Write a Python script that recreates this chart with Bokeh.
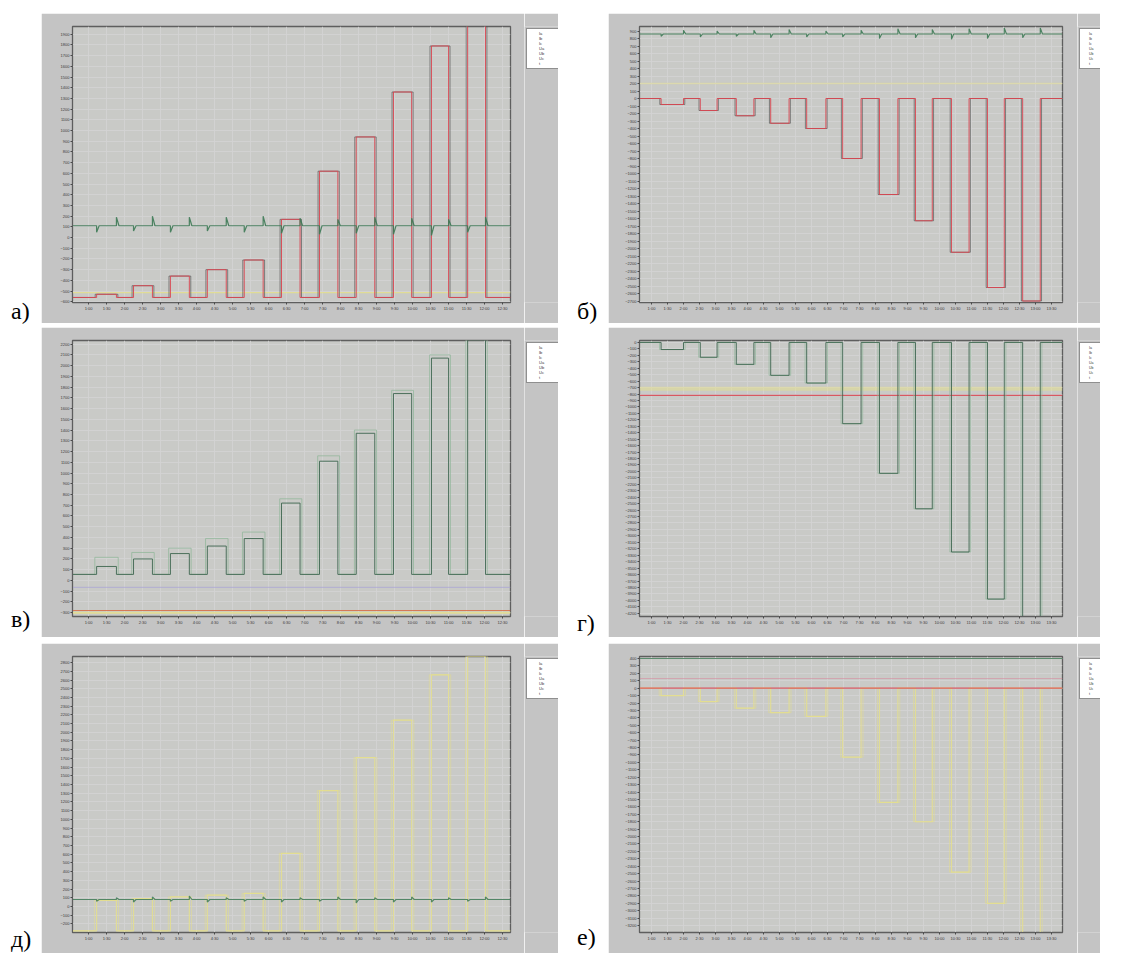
from bokeh.plotting import figure
from bokeh.models import Range1d, FixedTicker, Legend, LegendItem, Div, Spacer
from bokeh.layouts import row, column
from bokeh.embed import file_html
from bokeh.resources import INLINE

# ---------------- data ----------------
left_x_labels = ["1:00", "1:30", "2:00", "2:30", "3:00", "3:30", "4:00", "4:30",
                 "5:00", "5:30", "6:00", "6:30", "7:00", "7:30", "8:00", "8:30",
                 "9:00", "9:30", "10:00", "10:30", "11:00", "11:30", "12:00", "12:30"]
right_x_labels = ["1:00", "1:30", "2:00", "2:30", "3:00", "3:30", "4:00", "4:30",
                  "5:00", "5:30", "6:00", "6:30", "7:00", "7:30", "8:00", "8:30",
                  "9:00", "9:30", "10:00", "10:30", "11:00", "11:30", "12:00", "12:30",
                  "13:00", "13:30"]

legend_labels = ["Ia", "Ib", "Ic", "Ua", "Ub", "Uc", "t"]

# pulse timing (x in tick units)
left_start = [0.45, 2.5, 4.55, 6.6, 8.65, 10.72, 12.83, 14.87, 16.94, 19.05, 21.06]
left_end = [1.55, 3.55, 5.6, 7.65, 9.7, 11.75, 13.85, 15.9, 17.95, 20.0, 22.05]
right_start = [0.6, 3.05, 5.3, 7.45, 9.7, 11.95, 14.25, 16.5, 18.75, 21.0, 23.2]
right_end = [2.0, 4.1, 6.4, 8.6, 10.9, 13.1, 15.4, 17.55, 19.85, 22.05, 24.3]

# а)
a_base = -560
a_top = [-530, -450, -360, -300, -210, 170, 620, 940, 1360, 1790, 1990]
a_green = 110
a_green_dip = [-60, -50, -60, -50, -60, -70, -80, -70, -80, -90, -60]
a_green_peak = [80, 90, 80, 80, 90, 70, 60, 80, 70, 60, 80]
a_yellow = -514

# б)
b_base = 0
b_bottom = [-80, -160, -230, -330, -400, -800, -1280, -1630, -2050, -2520, -2700]
b_green = 860
b_green_dip = [-30, -40, -30, -50, -40, -40, -60, -50, -70, -60, -50]
b_green_peak = [50, 40, 50, 60, 40, 50, 70, 60, 70, 80, 80]
b_yellow = 200

# в)
c_base = 56
c_top = [130, 200, 250, 320, 390, 720, 1110, 1370, 1740, 2070, 2240]
c_top_light = [215, 260, 300, 390, 450, 760, 1160, 1400, 1770, 2100, 2240]
c_red = -280
c_yellow = -300
c_lilac = -65

# г)
d_base = 0
d_bottom = [-110, -230, -340, -510, -630, -1260, -2030, -2580, -3250, -3980, -4300]
d_red = -820
d_yellow = -720

# д)
e_base = -280
e_top = [70, 90, 110, 130, 150, 610, 1330, 1710, 2140, 2660, 2870]
e_green = 80
e_green_dip = [-20, -30, -20, -30, -20, -30, -20, -40, -30, -30, -20]
e_green_peak = [20, 30, 40, 20, 30, 20, 30, 20, 30, 20, 30]

# е)
f_base = 0
f_bottom = [-100, -180, -270, -330, -380, -930, -1540, -1800, -2480, -2900, -3300]
f_green = 400
f_red = 0
f_pink = 130

# y ticks
a_yticks = list(range(-600, 2000, 100))
b_yticks = list(range(-2700, 1000, 100))
c_yticks = list(range(-300, 2300, 100))
d_yticks = list(range(-4200, 100, 100))
e_yticks = list(range(-200, 2900, 100))
f_yticks = list(range(-3200, 500, 100))

# ---------------- style ----------------
PANEL_BG = "#c4c4c4"
PLOT_BG = "#c9cac7"
GRID = "#d3d3d3"
RED = "#d9444f"
DARK = "#474747"
GREEN = "#3d7a55"
DGREEN = "#3e6650"
LGREEN = "#93b89c"
YELLOW = "#e6e08a"
LILAC = "#a9a2d6"
PINK = "#d98a9e"
legend_colors = [DARK, RED, GREEN, YELLOW, LILAC, PINK, "#202020"]

ROW_H = 310
# left column: 31 + 438 frame + 14 -> main figure, then legend strip 34
LEFT_MAIN_W, LEFT_LEG_W = 483, 34
# right column: 31 + 423 frame + 15 -> main figure, then legend strip 23
RIGHT_MAIN_W, RIGHT_LEG_W = 469, 23


def pulses(starts, ends, base, levels, x0, x1, shift=0.0):
    xs, ys = [x0], [base]
    for s, e, lv in zip(starts, ends, levels):
        xs += [s - shift, s - shift, e + shift, e + shift]
        ys += [base, lv, lv, base]
    xs.append(x1)
    ys.append(base)
    return xs, ys


def spikes(starts, ends, level, dips, peaks, x0, x1, w=0.14):
    xs, ys = [x0], [level]
    for s, e, dn, up in zip(starts, ends, dips, peaks):
        xs += [s, s, s + w, e, e, e + w]
        ys += [level, level + dn, level, level, level + up, level]
    xs.append(x1)
    ys.append(level)
    return xs, ys


def make_fig(width, right_border, xr, yr, xlabels, yticks, height=ROW_H, bottom=21):
    p = figure(width=width, height=height, x_range=Range1d(*xr), y_range=Range1d(*yr),
               output_backend="svg", toolbar_location=None,
               min_border_left=31, min_border_right=right_border,
               min_border_top=13, min_border_bottom=bottom, margin=0)
    p.border_fill_color = PANEL_BG
    p.background_fill_color = PLOT_BG
    p.outline_line_color = "#5e5e5e"
    p.outline_line_width = 1.3
    p.xaxis.ticker = FixedTicker(ticks=list(range(len(xlabels))))
    p.xaxis.major_label_overrides = {i: lab for i, lab in enumerate(xlabels)}
    p.yaxis.ticker = FixedTicker(ticks=yticks)
    for ax in (p.xaxis, p.yaxis):
        ax.axis_line_color = "#5e5e5e"
        ax.major_tick_line_color = "#4a4a4a"
        ax.major_tick_out = 2
        ax.major_tick_in = 0
        ax.minor_tick_line_color = None
        ax.major_label_text_font_size = "4px"
        ax.major_label_text_color = "#3a3a3a"
        ax.major_label_standoff = 1
        ax.major_label_text_font = "Liberation Sans"
    p.xgrid.grid_line_color = GRID
    p.ygrid.grid_line_color = GRID
    p.xgrid.grid_line_alpha = 0.9
    p.ygrid.grid_line_alpha = 0.9
    return p


def legend_strip(width, height, font="4px", glyph_w=8):
    q = figure(width=width, height=height, x_range=Range1d(0, 1), y_range=Range1d(0, 1),
               output_backend="svg", toolbar_location=None,
               x_axis_location=None, y_axis_location=None, margin=0,
               min_border_left=0, min_border_right=0, min_border_top=0, min_border_bottom=0)
    q.border_fill_color = PANEL_BG
    q.border_fill_alpha = 1
    q.background_fill_color = PANEL_BG
    q.background_fill_alpha = 1
    q.outline_line_color = None
    q.xgrid.visible = False
    q.ygrid.visible = False
    rs = [q.line(x=[], y=[], line_color=c, line_width=1) for c in legend_colors]
    items = [LegendItem(label=lab, renderers=[r]) for lab, r in zip(legend_labels, rs)]
    lg = Legend(items=items, location="top_left", label_text_font_size=font,
                glyph_width=glyph_w, glyph_height=5, label_height=5, spacing=0,
                padding=2, margin=2, label_standoff=2,
                background_fill_color="white", background_fill_alpha=1,
                border_line_color="#202020", border_line_width=1,
                label_text_color="#333333", label_text_font="Liberation Sans")
    q.add_layout(lg)
    return q


LXR = (-0.89, 23.44)
RXR = (-0.75, 25.69)

# а)
pa = make_fig(LEFT_MAIN_W, 14, LXR, (-607, 1972), left_x_labels, a_yticks)
pa.line([LXR[0], LXR[1]], [a_yellow, a_yellow], line_color=YELLOW, line_width=1.2, alpha=0.8)
x, y = pulses(left_start, left_end, a_base, a_top, *LXR, shift=0.08)
pa.line(x, y, line_color=DARK, line_width=1, alpha=0.6)
x, y = pulses(left_start, left_end, a_base, a_top, *LXR)
pa.line(x, y, line_color=RED, line_width=1, alpha=0.9)
x, y = spikes(left_start, left_end, a_green, a_green_dip, a_green_peak, *LXR)
pa.line(x, y, line_color=GREEN, line_width=1.2, alpha=0.9)

# б)
pb = make_fig(RIGHT_MAIN_W, 15, RXR, (-2720, 960), right_x_labels, b_yticks)
pb.line([RXR[0], RXR[1]], [b_yellow, b_yellow], line_color=YELLOW, line_width=1.5, alpha=0.5)
x, y = pulses(right_start, right_end, b_base, b_bottom, *RXR, shift=0.08)
pb.line(x, y, line_color=DARK, line_width=1, alpha=0.6)
x, y = pulses(right_start, right_end, b_base, b_bottom, *RXR)
pb.line(x, y, line_color=RED, line_width=1, alpha=0.9)
x, y = spikes(right_start, right_end, b_green, b_green_dip, b_green_peak, *RXR)
pb.line(x, y, line_color=GREEN, line_width=1.1, alpha=0.9)

# в)
pc = make_fig(LEFT_MAIN_W, 14, LXR, (-336, 2234), left_x_labels, c_yticks)
pc.line([LXR[0], LXR[1]], [c_lilac, c_lilac], line_color=LILAC, line_width=1.2, alpha=0.6)
pc.line([LXR[0], LXR[1]], [c_yellow, c_yellow], line_color=YELLOW, line_width=2, alpha=0.8)
pc.line([LXR[0], LXR[1]], [c_red, c_red], line_color="#d8643c", line_width=1.2, alpha=0.8)
x, y = pulses(left_start, left_end, c_base, c_top_light, *LXR, shift=0.1)
pc.line(x, y, line_color=LGREEN, line_width=1, alpha=0.8)
x, y = pulses(left_start, left_end, c_base, c_top, *LXR)
pc.line(x, y, line_color=DGREEN, line_width=1, alpha=0.9)

# г)
pd = make_fig(RIGHT_MAIN_W, 15, RXR, (-4250, 30), right_x_labels, d_yticks)
pd.line([RXR[0], RXR[1]], [d_yellow, d_yellow], line_color=YELLOW, line_width=4, alpha=0.5)
pd.line([RXR[0], RXR[1]], [d_red, d_red], line_color=RED, line_width=1.2, alpha=0.85)
x, y = pulses(right_start, right_end, d_base, d_bottom, *RXR, shift=0.1)
pd.line(x, y, line_color=LGREEN, line_width=1, alpha=0.7)
x, y = pulses(right_start, right_end, d_base, d_bottom, *RXR)
pd.line(x, y, line_color=DGREEN, line_width=1, alpha=0.9)

# д)
pe = make_fig(LEFT_MAIN_W, 14, LXR, (-299, 2870), left_x_labels, e_yticks, height=ROW_H, bottom=21)
x, y = pulses(left_start, left_end, e_base, e_top, *LXR, shift=0.12)
pe.line(x, y, line_color=YELLOW, line_width=1, alpha=0.5)
x, y = pulses(left_start, left_end, e_base, e_top, *LXR)
pe.line(x, y, line_color=YELLOW, line_width=1.2, alpha=0.8)
x, y = spikes(left_start, left_end, e_green, e_green_dip, e_green_peak, *LXR)
pe.line(x, y, line_color=GREEN, line_width=1.2, alpha=0.85)

# е)
pf = make_fig(RIGHT_MAIN_W, 15, RXR, (-3293, 427), right_x_labels, f_yticks, height=ROW_H, bottom=21)
pf.line([RXR[0], RXR[1]], [f_pink, f_pink], line_color=PINK, line_width=1, alpha=0.6)
pf.line([RXR[0], RXR[1]], [f_green, f_green], line_color=GREEN, line_width=1.2, alpha=0.8)
x, y = pulses(right_start, right_end, f_base, f_bottom, *RXR, shift=0.12)
pf.line(x, y, line_color=YELLOW, line_width=1, alpha=0.5)
x, y = pulses(right_start, right_end, f_base, f_bottom, *RXR)
pf.line(x, y, line_color=YELLOW, line_width=1.2, alpha=0.8)
pf.line([RXR[0], RXR[1]], [f_red, f_red], line_color=RED, line_width=1.2, alpha=0.85)


def label(txt, width, height, top, left):
    html = ('<div style="font-family:\'Liberation Serif\',serif;font-size:24px;'
            'line-height:24px;color:#000;padding-top:%dpx;padding-left:%dpx;">%s</div>'
            % (top, left, txt))
    return Div(text=html, width=width, height=height, margin=0)


row1 = row(label("а)", 41, ROW_H, 286, 11), pa, legend_strip(LEFT_LEG_W, ROW_H),
           label("б)", 50, ROW_H, 286, 19), pb,
           legend_strip(RIGHT_LEG_W, ROW_H, font="3.5px", glyph_w=5), spacing=0)
row2 = row(label("в)", 41, ROW_H, 280, 11), pc, legend_strip(LEFT_LEG_W, ROW_H),
           label("г)", 50, ROW_H, 284, 19), pd,
           legend_strip(RIGHT_LEG_W, ROW_H, font="3.5px", glyph_w=5), spacing=0)
row3 = row(label("д)", 41, ROW_H, 284, 11), pe, legend_strip(LEFT_LEG_W, ROW_H),
           label("е)", 50, ROW_H, 282, 19), pf,
           legend_strip(RIGHT_LEG_W, ROW_H, font="3.5px", glyph_w=5), spacing=0)

layout = column(Spacer(height=13, margin=0), row1, Spacer(height=4, margin=0), row2,
                Spacer(height=6, margin=0), row3, spacing=0)

open("out.html", "w").write(file_html(layout, INLINE))
